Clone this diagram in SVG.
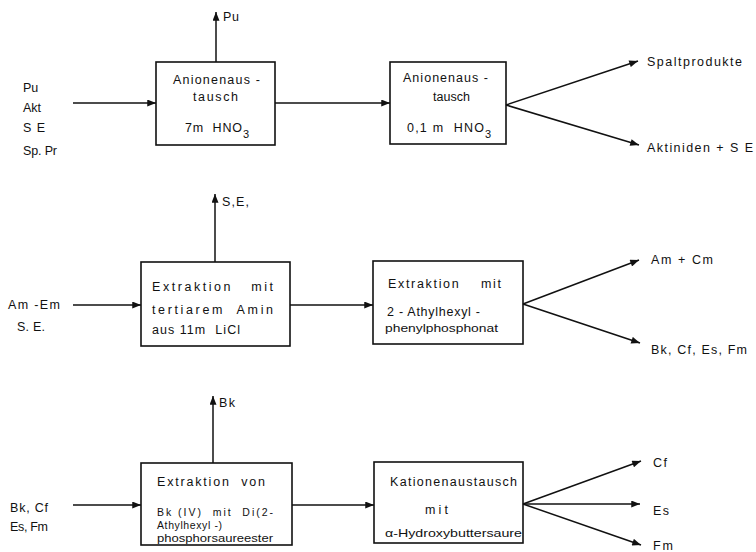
<svg xmlns="http://www.w3.org/2000/svg" width="756" height="552" viewBox="0 0 756 552" xml:space="preserve">
<style>
.box{fill:none;stroke:#111;stroke-width:1.6}
.ln{fill:none;stroke:#111;stroke-width:1.5}
text{font-family:"Liberation Sans","DejaVu Sans",sans-serif;font-size:12.5px;fill:#111;white-space:pre}
.sub{font-size:11px}
.sm{font-size:11.5px}
.xs{font-size:10.5px}
</style>
<defs>
<marker id="ah" viewBox="0 0 10 8" refX="10" refY="4" markerWidth="10" markerHeight="7" markerUnits="userSpaceOnUse" orient="auto">
<path d="M0,0 L10,4 L0,8 z" fill="#111"/>
</marker>
</defs>
<rect width="756" height="552" fill="#fff"/>

<g id="connectors">
<line class="ln" x1="216" y1="62" x2="216" y2="12" marker-end="url(#ah)"/>
<line class="ln" x1="73" y1="103" x2="156" y2="103" marker-end="url(#ah)"/>
<line class="ln" x1="275" y1="103" x2="390" y2="103" marker-end="url(#ah)"/>
<line class="ln" x1="506" y1="105" x2="638" y2="61" marker-end="url(#ah)"/>
<line class="ln" x1="506" y1="105" x2="639" y2="145" marker-end="url(#ah)"/>
<line class="ln" x1="215" y1="262" x2="215" y2="194" marker-end="url(#ah)"/>
<line class="ln" x1="73" y1="305" x2="141" y2="305" marker-end="url(#ah)"/>
<line class="ln" x1="290" y1="305" x2="373" y2="305" marker-end="url(#ah)"/>
<line class="ln" x1="523" y1="304" x2="639" y2="260" marker-end="url(#ah)"/>
<line class="ln" x1="523" y1="304" x2="640" y2="343" marker-end="url(#ah)"/>
<line class="ln" x1="213" y1="463" x2="213" y2="396" marker-end="url(#ah)"/>
<line class="ln" x1="73" y1="505" x2="141" y2="505" marker-end="url(#ah)"/>
<line class="ln" x1="292" y1="505" x2="374" y2="505" marker-end="url(#ah)"/>
<line class="ln" x1="523" y1="504" x2="641" y2="461" marker-end="url(#ah)"/>
<line class="ln" x1="523" y1="504" x2="640" y2="504" marker-end="url(#ah)"/>
<line class="ln" x1="523" y1="504" x2="641" y2="545" marker-end="url(#ah)"/>
</g>

<g id="labels">
<text x="223" y="21" textLength="16" lengthAdjust="spacing">Pu</text>
<text x="23" y="92">Pu</text>
<text x="23" y="112">Akt</text>
<text x="23" y="132" textLength="22" lengthAdjust="spacing">S E</text>
<text x="23" y="155" textLength="34" lengthAdjust="spacing">Sp. Pr</text>
<text x="647" y="66" textLength="95" lengthAdjust="spacing">Spaltprodukte</text>
<text x="647" y="152" textLength="106" lengthAdjust="spacing">Aktiniden + S E</text>

<text x="222" y="206" textLength="27" lengthAdjust="spacing">S,E,</text>
<text x="8" y="309" textLength="52" lengthAdjust="spacing">Am -Em</text>
<text x="17" y="331" textLength="28" lengthAdjust="spacing">S. E.</text>
<text x="651" y="264" textLength="62" lengthAdjust="spacing">Am + Cm</text>
<text x="651" y="354" textLength="96" lengthAdjust="spacing">Bk, Cf, Es, Fm</text>

<text x="219" y="407" textLength="16" lengthAdjust="spacing">Bk</text>
<text x="10" y="512" textLength="38" lengthAdjust="spacing">Bk, Cf</text>
<text x="10" y="531" textLength="38" lengthAdjust="spacing">Es, Fm</text>
<text x="653" y="467" textLength="14" lengthAdjust="spacing">Cf</text>
<text x="653" y="515" textLength="16" lengthAdjust="spacing">Es</text>
<text x="653" y="550" textLength="20" lengthAdjust="spacing">Fm</text>
</g>

<g id="node-anion1">
<rect class="box" x="156" y="62" width="119" height="83"/>
<text x="173" y="84" textLength="87" lengthAdjust="spacing">Anionenaus -</text>
<text x="193" y="101" textLength="45" lengthAdjust="spacing">tausch</text>
<text x="185" y="132" textLength="57" lengthAdjust="spacing">7m  HNO</text>
<text class="sub" x="243" y="138">3</text>
</g>

<g id="node-anion2">
<rect class="box" x="390" y="62" width="116" height="82"/>
<text x="403" y="82" textLength="85" lengthAdjust="spacing">Anionenaus -</text>
<text x="433" y="101" textLength="37" lengthAdjust="spacing">tausch</text>
<text x="407" y="132" textLength="77" lengthAdjust="spacing">0,1 m  HNO</text>
<text class="sub" x="485" y="138">3</text>
</g>

<g id="node-extr-amin">
<rect class="box" x="141" y="262" width="149" height="84"/>
<text x="152" y="291" textLength="121" lengthAdjust="spacing">Extraktion   mit</text>
<text x="152" y="314" textLength="121" lengthAdjust="spacing">tertiarem  Amin</text>
<text x="152" y="334" textLength="88" lengthAdjust="spacing">aus 11m  LiCl</text>
</g>

<g id="node-extr-phos">
<rect class="box" x="373" y="261" width="150" height="83"/>
<text x="388" y="288" textLength="113" lengthAdjust="spacing">Extraktion    mit</text>
<text x="387" y="316" textLength="93" lengthAdjust="spacing">2 - Athylhexyl -</text>
<text class="sm" x="385" y="332" textLength="113" lengthAdjust="spacingAndGlyphs">phenylphosphonat</text>
</g>

<g id="node-extr-bk">
<rect class="box" x="141" y="463" width="151" height="82"/>
<text x="157" y="486" textLength="108" lengthAdjust="spacing">Extraktion  von</text>
<text class="xs" x="157" y="516" textLength="116" lengthAdjust="spacing">Bk (IV)  mit  Di(2-</text>
<text class="xs" x="157" y="529" textLength="65" lengthAdjust="spacing">Athylhexyl -)</text>
<text class="xs" x="157" y="542" textLength="116" lengthAdjust="spacingAndGlyphs">phosphorsaureester</text>
</g>

<g id="node-kation">
<rect class="box" x="374" y="462" width="149" height="81"/>
<text x="390" y="486" textLength="127" lengthAdjust="spacing">Kationenaustausch</text>
<text x="425" y="514" textLength="23" lengthAdjust="spacing">mit</text>
<text class="sm" x="385" y="537" textLength="137" lengthAdjust="spacingAndGlyphs">α-Hydroxybuttersaure</text>
</g>
</svg>
